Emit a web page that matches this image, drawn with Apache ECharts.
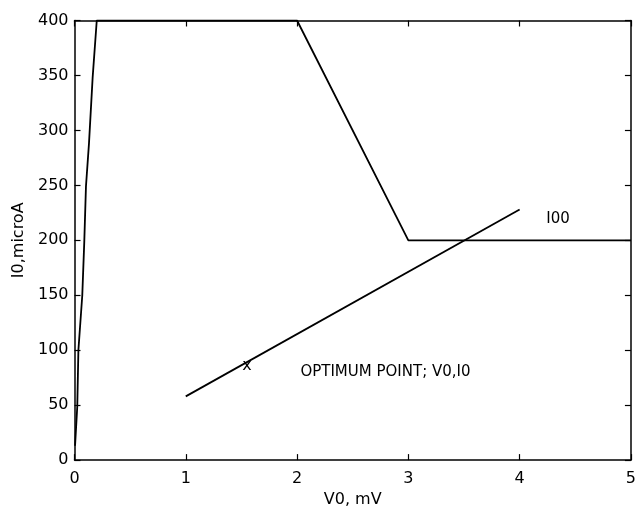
<!DOCTYPE html>
<html>
<head>
<meta charset="utf-8">
<script src="https://cdn.jsdelivr.net/npm/echarts@6/dist/echarts.min.js"></script>
<style>
html,body{margin:0;padding:0;background:#fff;}
#chart{width:639px;height:513px;}
</style>
</head>
<body>
<div id="chart"></div>
<script>
// I00 curve
var i00X = [0.005, 0.025, 0.035, 0.07, 0.088, 0.103, 0.13, 0.163, 0.2, 2, 3, 5];
var i00Y = [13, 49, 100, 150, 199, 249, 288, 348, 400, 400, 200, 200];
// optimum line
var optX = [1, 4];
var optY = [58, 228];
// optimum point marker
var markX = [1.55];
var markY = [86];
// annotations
var noteX = [4.24, 2.03];
var noteY = [219, 80];
var noteText = ['I00', 'OPTIMUM POINT; V0,I0'];
// axis ticks
var xMin = 0, xMax = 5, xStep = 1;
var yMin = 0, yMax = 400, yStep = 50;

function zip(a, b) { return a.map(function (v, i) { return [v, b[i]]; }); }

var FONT = 'DejaVu Sans';
var chart = echarts.init(document.getElementById('chart'), null, {renderer: 'canvas'});
var axisCommon = {
  type: 'value',
  axisLine: {show: true, onZero: false, lineStyle: {color: '#000', width: 1.5}},
  axisTick: {show: true, inside: true, length: 6, lineStyle: {color: '#000', width: 1.2}},
  splitLine: {show: false}
};
var option = {
  backgroundColor: '#fff',
  animation: false,
  grid: {left: 74.5, right: 6.5, top: 20.5, bottom: 52, containLabel: false},
  xAxis: [
    Object.assign({}, axisCommon, {
      position: 'bottom', min: xMin, max: xMax, interval: xStep,
      name: 'V0, mV', nameLocation: 'middle', nameGap: 30,
      nameTextStyle: {fontFamily: FONT, fontSize: 16, color: '#000'},
      axisLabel: {margin: 11, fontFamily: FONT, fontSize: 16, color: '#000'}
    }),
    Object.assign({}, axisCommon, {
      position: 'top', min: xMin, max: xMax, interval: xStep,
      axisLabel: {show: false}
    })
  ],
  yAxis: [
    Object.assign({}, axisCommon, {
      position: 'left', min: yMin, max: yMax, interval: yStep,
      name: 'I0,microA', nameLocation: 'middle', nameGap: 48,
      nameTextStyle: {fontFamily: FONT, fontSize: 16, color: '#000'},
      axisLabel: {margin: 6, fontFamily: FONT, fontSize: 16, color: '#000'}
    }),
    Object.assign({}, axisCommon, {
      position: 'right', min: yMin, max: yMax, interval: yStep,
      axisLabel: {show: false}
    })
  ],
  series: [
    {
      type: 'line', data: zip(i00X, i00Y), symbol: 'none',
      lineStyle: {color: '#000', width: 1.8}, clip: true
    },
    {
      type: 'line', data: zip(optX, optY), symbol: 'none',
      lineStyle: {color: '#000', width: 1.8}
    },
    {
      type: 'scatter', data: zip(markX, markY), symbolSize: 0,
      itemStyle: {opacity: 1, color: '#000'},
      label: {show: true, position: 'inside', formatter: 'x', opacity: 1,
        fontFamily: FONT, fontSize: 16, color: '#000'}
    },
    {
      type: 'scatter', symbolSize: 0,
      itemStyle: {opacity: 1, color: '#000'},
      data: noteX.map(function (v, i) { return {value: [v, noteY[i]], name: noteText[i]}; }),
      label: {show: true, position: 'right', distance: 0, formatter: '{b}', opacity: 1,
        fontFamily: FONT, fontSize: 15, color: '#000'}
    }
  ]
};
chart.setOption(option);
</script>
</body>
</html>
